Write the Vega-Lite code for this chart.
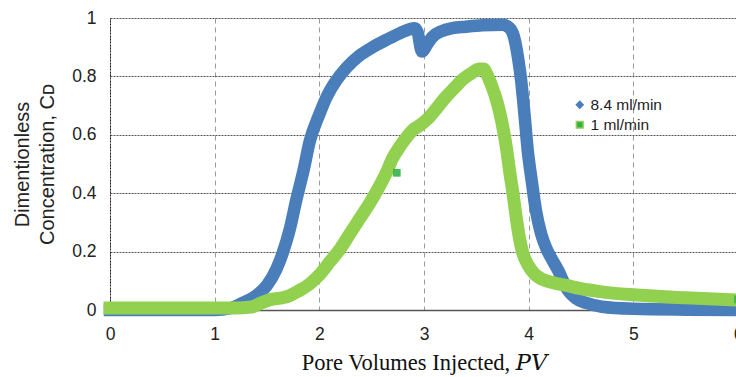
{
  "$schema": "https://vega.github.io/schema/vega-lite/v6.json",
  "width": 628,
  "height": 292,
  "autosize": {"type": "none"},
  "padding": {"left": 110, "top": 18, "right": 0, "bottom": 67},
  "background": "white",
  "config": {"view": {"stroke": null}, "font": "Liberation Sans"},
  "datasets": {
    "blue": [
      {"pv": 0, "cd": 0, "series": "8.4 ml/min"},
      {"pv": 1.0, "cd": 0, "series": "8.4 ml/min"},
      {"pv": 1.15, "cd": 0.006, "series": "8.4 ml/min"},
      {"pv": 1.27, "cd": 0.025, "series": "8.4 ml/min"},
      {"pv": 1.4, "cd": 0.05, "series": "8.4 ml/min"},
      {"pv": 1.5, "cd": 0.085, "series": "8.4 ml/min"},
      {"pv": 1.59, "cd": 0.14, "series": "8.4 ml/min"},
      {"pv": 1.65, "cd": 0.195, "series": "8.4 ml/min"},
      {"pv": 1.72, "cd": 0.28, "series": "8.4 ml/min"},
      {"pv": 1.78, "cd": 0.377, "series": "8.4 ml/min"},
      {"pv": 1.85, "cd": 0.48, "series": "8.4 ml/min"},
      {"pv": 1.91, "cd": 0.58, "series": "8.4 ml/min"},
      {"pv": 2.0, "cd": 0.67, "series": "8.4 ml/min"},
      {"pv": 2.07, "cd": 0.73, "series": "8.4 ml/min"},
      {"pv": 2.16, "cd": 0.785, "series": "8.4 ml/min"},
      {"pv": 2.26, "cd": 0.83, "series": "8.4 ml/min"},
      {"pv": 2.38, "cd": 0.87, "series": "8.4 ml/min"},
      {"pv": 2.51, "cd": 0.9, "series": "8.4 ml/min"},
      {"pv": 2.64, "cd": 0.925, "series": "8.4 ml/min"},
      {"pv": 2.77, "cd": 0.948, "series": "8.4 ml/min"},
      {"pv": 2.91, "cd": 0.965, "series": "8.4 ml/min"},
      {"pv": 2.94, "cd": 0.95, "series": "8.4 ml/min"},
      {"pv": 2.98, "cd": 0.885, "series": "8.4 ml/min"},
      {"pv": 3.03, "cd": 0.91, "series": "8.4 ml/min"},
      {"pv": 3.08, "cd": 0.935, "series": "8.4 ml/min"},
      {"pv": 3.17, "cd": 0.955, "series": "8.4 ml/min"},
      {"pv": 3.27, "cd": 0.965, "series": "8.4 ml/min"},
      {"pv": 3.4, "cd": 0.97, "series": "8.4 ml/min"},
      {"pv": 3.56, "cd": 0.975, "series": "8.4 ml/min"},
      {"pv": 3.75, "cd": 0.977, "series": "8.4 ml/min"},
      {"pv": 3.82, "cd": 0.965, "series": "8.4 ml/min"},
      {"pv": 3.86, "cd": 0.935, "series": "8.4 ml/min"},
      {"pv": 3.9, "cd": 0.86, "series": "8.4 ml/min"},
      {"pv": 3.93, "cd": 0.78, "series": "8.4 ml/min"},
      {"pv": 3.96, "cd": 0.67, "series": "8.4 ml/min"},
      {"pv": 3.99, "cd": 0.55, "series": "8.4 ml/min"},
      {"pv": 4.03, "cd": 0.44, "series": "8.4 ml/min"},
      {"pv": 4.07, "cd": 0.34, "series": "8.4 ml/min"},
      {"pv": 4.12, "cd": 0.26, "series": "8.4 ml/min"},
      {"pv": 4.17, "cd": 0.21, "series": "8.4 ml/min"},
      {"pv": 4.22, "cd": 0.175, "series": "8.4 ml/min"},
      {"pv": 4.28, "cd": 0.137, "series": "8.4 ml/min"},
      {"pv": 4.37, "cd": 0.07, "series": "8.4 ml/min"},
      {"pv": 4.45, "cd": 0.04, "series": "8.4 ml/min"},
      {"pv": 4.55, "cd": 0.024, "series": "8.4 ml/min"},
      {"pv": 4.7, "cd": 0.011, "series": "8.4 ml/min"},
      {"pv": 5.0, "cd": 0.004, "series": "8.4 ml/min"},
      {"pv": 5.5, "cd": 0.001, "series": "8.4 ml/min"},
      {"pv": 6.0, "cd": 0.0, "series": "8.4 ml/min"}
    ],
    "green": [
      {"pv": 0, "cd": 0.007, "series": "1 ml/min"},
      {"pv": 1.2, "cd": 0.007, "series": "1 ml/min"},
      {"pv": 1.35, "cd": 0.01, "series": "1 ml/min"},
      {"pv": 1.45, "cd": 0.025, "series": "1 ml/min"},
      {"pv": 1.55, "cd": 0.037, "series": "1 ml/min"},
      {"pv": 1.65, "cd": 0.042, "series": "1 ml/min"},
      {"pv": 1.72, "cd": 0.05, "series": "1 ml/min"},
      {"pv": 1.8, "cd": 0.065, "series": "1 ml/min"},
      {"pv": 1.91, "cd": 0.09, "series": "1 ml/min"},
      {"pv": 2.0, "cd": 0.12, "series": "1 ml/min"},
      {"pv": 2.1, "cd": 0.165, "series": "1 ml/min"},
      {"pv": 2.2, "cd": 0.21, "series": "1 ml/min"},
      {"pv": 2.29, "cd": 0.26, "series": "1 ml/min"},
      {"pv": 2.38, "cd": 0.31, "series": "1 ml/min"},
      {"pv": 2.48, "cd": 0.365, "series": "1 ml/min"},
      {"pv": 2.56, "cd": 0.415, "series": "1 ml/min"},
      {"pv": 2.64, "cd": 0.47, "series": "1 ml/min"},
      {"pv": 2.7, "cd": 0.52, "series": "1 ml/min"},
      {"pv": 2.77, "cd": 0.56, "series": "1 ml/min"},
      {"pv": 2.83, "cd": 0.59, "series": "1 ml/min"},
      {"pv": 2.89, "cd": 0.615, "series": "1 ml/min"},
      {"pv": 2.97, "cd": 0.635, "series": "1 ml/min"},
      {"pv": 3.05, "cd": 0.66, "series": "1 ml/min"},
      {"pv": 3.13, "cd": 0.695, "series": "1 ml/min"},
      {"pv": 3.21, "cd": 0.73, "series": "1 ml/min"},
      {"pv": 3.29, "cd": 0.76, "series": "1 ml/min"},
      {"pv": 3.37, "cd": 0.79, "series": "1 ml/min"},
      {"pv": 3.45, "cd": 0.81, "series": "1 ml/min"},
      {"pv": 3.53, "cd": 0.825, "series": "1 ml/min"},
      {"pv": 3.57, "cd": 0.825, "series": "1 ml/min"},
      {"pv": 3.61, "cd": 0.8, "series": "1 ml/min"},
      {"pv": 3.65, "cd": 0.765, "series": "1 ml/min"},
      {"pv": 3.7, "cd": 0.71, "series": "1 ml/min"},
      {"pv": 3.74, "cd": 0.65, "series": "1 ml/min"},
      {"pv": 3.79, "cd": 0.55, "series": "1 ml/min"},
      {"pv": 3.82, "cd": 0.47, "series": "1 ml/min"},
      {"pv": 3.85, "cd": 0.4, "series": "1 ml/min"},
      {"pv": 3.88, "cd": 0.32, "series": "1 ml/min"},
      {"pv": 3.91, "cd": 0.25, "series": "1 ml/min"},
      {"pv": 3.94, "cd": 0.2, "series": "1 ml/min"},
      {"pv": 4.0, "cd": 0.15, "series": "1 ml/min"},
      {"pv": 4.06, "cd": 0.122, "series": "1 ml/min"},
      {"pv": 4.13, "cd": 0.105, "series": "1 ml/min"},
      {"pv": 4.25, "cd": 0.092, "series": "1 ml/min"},
      {"pv": 4.36, "cd": 0.084, "series": "1 ml/min"},
      {"pv": 4.5, "cd": 0.073, "series": "1 ml/min"},
      {"pv": 4.68, "cd": 0.063, "series": "1 ml/min"},
      {"pv": 5.0, "cd": 0.052, "series": "1 ml/min"},
      {"pv": 5.5, "cd": 0.042, "series": "1 ml/min"},
      {"pv": 6.0, "cd": 0.034, "series": "1 ml/min"}
    ],
    "markers": [
      {"pv": 2.74, "cd": 0.47, "series": "1 ml/min"},
      {"pv": 6.0, "cd": 0.036, "series": "1 ml/min"}
    ]
  },
  "encoding": {
    "x": {
      "field": "pv",
      "type": "quantitative",
      "scale": {"domain": [0, 6], "nice": false, "zero": false},
      "axis": {
        "title": "Pore Volumes Injected, 𝑃𝑉",
        "values": [0, 1, 2, 3, 4, 5, 6],
        "format": "~g",
        "grid": true,
        "gridDash": [5, 4],
        "gridColor": "#9a9a9a",
        "gridWidth": 1,
        "domainColor": "#555555",
        "domainWidth": 1.5,
        "ticks": false,
        "labelPadding": 15,
        "labelFontSize": 17.5,
        "labelColor": "#222222",
        "labelFlush": false,
        "titleFont": "'Liberation Serif', 'DejaVu Serif', serif",
        "titleFontSize": 22.5,
        "titleFontWeight": "normal",
        "titleColor": "#111111",
        "titlePadding": 9
      }
    },
    "y": {
      "field": "cd",
      "type": "quantitative",
      "scale": {"domain": [0, 1], "nice": false, "zero": false},
      "axis": {
        "title": ["Dimentionless", "Concentration, Cᴅ"],
        "values": [0, 0.2, 0.4, 0.6, 0.8, 1],
        "format": "~g",
        "grid": true,
        "gridDash": [2, 1],
        "gridColor": "#555555",
        "gridWidth": 1,
        "domainDash": [2, 1],
        "domainColor": "#222222",
        "domainWidth": 1,
        "ticks": false,
        "labelPadding": 14,
        "labelFontSize": 17.5,
        "labelColor": "#222222",
        "titleFont": "Liberation Sans",
        "titleFontSize": 20,
        "titleFontWeight": "normal",
        "titleColor": "#222222",
        "titlePadding": 14,
        "titleLineHeight": 25
      }
    }
  },
  "layer": [
    {
      "mark": {"type": "rule", "color": "#999999", "strokeWidth": 2},
      "encoding": {"y": {"datum": 1}, "x": null}
    },
    {
      "data": {"name": "blue"},
      "mark": {"type": "line", "strokeWidth": 12.5, "interpolate": "monotone", "strokeCap": "square", "strokeJoin": "round"},
      "encoding": {
        "color": {
          "field": "series",
          "type": "nominal",
          "scale": {"domain": ["8.4 ml/min", "1 ml/min"], "range": ["#4a7ebb", "#92d050"]},
          "legend": {
            "orient": "none",
            "legendX": 462,
            "legendY": 79,
            "title": null,
            "padding": 0,
            "labelFontSize": 15.5,
            "labelColor": "#222222",
            "labelFont": "Liberation Sans",
            "symbolSize": 45,
            "rowPadding": 3,
            "labelOffset": 3,
            "encode": {
              "symbols": {
                "update": {
                  "shape": {"signal": "datum.value === '1 ml/min' ? 'square' : 'diamond'"},
                  "fill": {"signal": "datum.value === '1 ml/min' ? '#2eb04a' : '#4a7ebb'"},
                  "stroke": {"value": "transparent"},
                  "opacity": {"value": 1}
                }
              }
            }
          }
        }
      }
    },
    {
      "data": {"name": "green"},
      "mark": {"type": "line", "strokeWidth": 13, "interpolate": "monotone", "strokeCap": "square", "strokeJoin": "round"},
      "encoding": {
        "color": {"field": "series", "type": "nominal"}
      }
    },
    {
      "data": {"name": "markers"},
      "mark": {"type": "point", "shape": "square", "filled": true, "color": "#33b34d", "size": 60, "opacity": 0.9},
      "encoding": {}
    }
  ]
}
